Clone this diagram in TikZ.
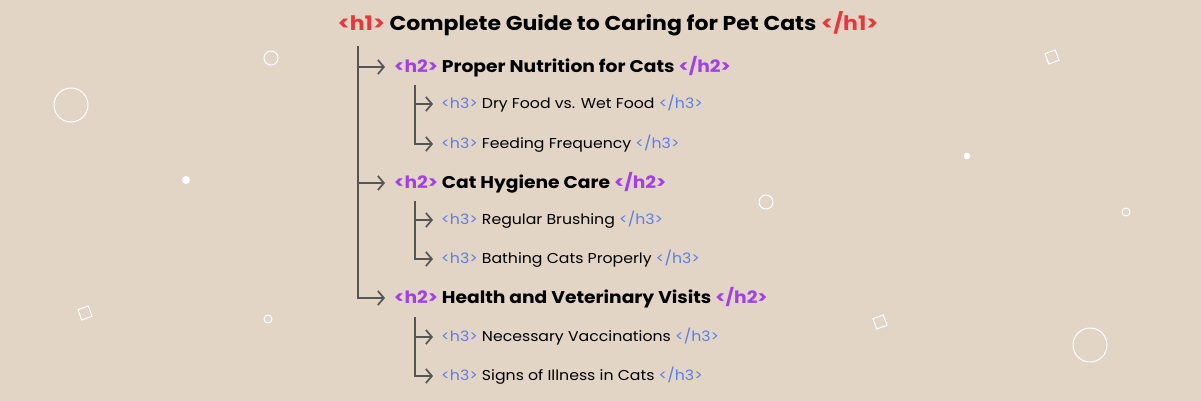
\documentclass[tikz,border=0pt]{standalone}
\usepackage{fontspec}
\setmainfont{Poppins}[FakeStretch=1.1, BoldFeatures={FakeStretch=1.1}]
\usetikzlibrary{arrows.meta}
\definecolor{bg}{HTML}{E3D5C6}
\definecolor{hred}{HTML}{E8383D}
\definecolor{hpurple}{HTML}{A040E6}
\definecolor{hblue}{HTML}{5A7FE6}
\definecolor{lgray}{HTML}{555555}
\tikzset{
  conn/.style={draw=lgray, line width=1.7pt, -{Straight Barb[length=6pt,width=14pt,line width=1.7pt]}},
  hone/.style={anchor=west, inner xsep=0pt, inner ysep=2pt, font=\fontsize{20}{22}\selectfont\bfseries},
  htwo/.style={anchor=west, inner xsep=9pt, inner ysep=2pt, font=\fontsize{17}{20}\selectfont\bfseries},
  hthree/.style={anchor=west, inner xsep=8pt, inner ysep=2pt, font=\fontsize{14.3}{17}\selectfont},
  deco/.style={draw=white, line width=1pt},
  dot/.style={fill=white},
}
\newcommand{\tagone}[1]{\textcolor{hred}{#1}}
\newcommand{\tagtwo}[1]{\textcolor{hpurple}{#1}}
\newcommand{\tagthree}[1]{\textcolor{hblue}{#1}}
\begin{document}
\begin{tikzpicture}[x=1pt,y=-1pt]
\fill[bg] (0,0) rectangle (1201,401);
\useasboundingbox (0,0) rectangle (1201,401);
% decorations
\draw[deco] (71,105) circle (17);
\draw[deco] (271,58) circle (7);
\fill[dot] (186,180) circle (4);
\draw[deco, rotate around={20:(85,313)}] (79.5,307.5) rectangle (90.5,318.5);
\draw[deco] (268,319) circle (4);
\draw[deco, rotate around={20:(1052,57)}] (1046.5,51.5) rectangle (1057.5,62.5);
\fill[dot] (967,156) circle (3.3);
\draw[deco] (766,202) circle (7);
\draw[deco] (1126,212) circle (4);
\draw[deco, rotate around={20:(880,322)}] (874.5,316.5) rectangle (885.5,327.5);
\draw[deco] (1090,345) circle (17);
% title
\node[hone, anchor=center] (h1) at (608,24) {\tagone{<h1>} Complete Guide to Caring for Pet Cats \tagone{</h1>}};
% h2 nodes
\node[htwo] (a) at (385,67) {\tagtwo{<h2>} Proper Nutrition for Cats \tagtwo{</h2>}};
\node[htwo] (b) at (385,183) {\tagtwo{<h2>} Cat Hygiene Care \tagtwo{</h2>}};
\node[htwo] (c) at (385,298) {\tagtwo{<h2>} Health and Veterinary Visits \tagtwo{</h2>}};
% h3 nodes
\node[hthree] (a1) at (433,104) {\tagthree{<h3>} Dry Food vs. Wet Food \tagthree{</h3>}};
\node[hthree] (a2) at (433,144) {\tagthree{<h3>} Feeding Frequency \tagthree{</h3>}};
\node[hthree] (b1) at (433,220) {\tagthree{<h3>} Regular Brushing \tagthree{</h3>}};
\node[hthree] (b2) at (433,259) {\tagthree{<h3>} Bathing Cats Properly \tagthree{</h3>}};
\node[hthree] (c1) at (433,337) {\tagthree{<h3>} Necessary Vaccinations \tagthree{</h3>}};
\node[hthree] (c2) at (433,376) {\tagthree{<h3>} Signs of Illness in Cats \tagthree{</h3>}};
% trunk
\coordinate (t0) at (358,46);
\draw[conn] (t0) |- (c.west);
\draw[conn] (t0 |- a.west) -- (a.west);
\draw[conn] (t0 |- b.west) -- (b.west);
% branches
\coordinate (ta) at (415,85);
\draw[conn] (ta) |- (a2.west);
\draw[conn] (ta |- a1.west) -- (a1.west);
\coordinate (tb) at (415,201);
\draw[conn] (tb) |- (b2.west);
\draw[conn] (tb |- b1.west) -- (b1.west);
\coordinate (tc) at (415,317);
\draw[conn] (tc) |- (c2.west);
\draw[conn] (tc |- c1.west) -- (c1.west);
\end{tikzpicture}
\end{document}
